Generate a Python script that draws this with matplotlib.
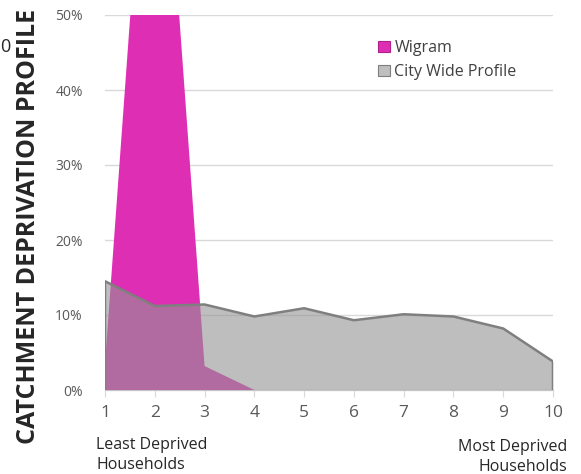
import matplotlib
matplotlib.use("Agg")
import matplotlib.pyplot as plt
from matplotlib.ticker import FuncFormatter
from matplotlib.patches import Patch

deciles = [1, 2, 3, 4, 5, 6, 7, 8, 9, 10]
wigram = [0.035, 0.95, 0.032, 0.0, 0.0, 0.0, 0.0, 0.0, 0.0, 0.0]
city_wide = [0.145, 0.112, 0.114, 0.098, 0.109, 0.093, 0.101, 0.098, 0.082, 0.038]
y_ticks = [0.0, 0.1, 0.2, 0.3, 0.4, 0.5]
series_names = ["Wigram", "City Wide Profile"]

MAGENTA = "#DE2FB4"
GRAY_FILL = "#949494"
GRAY_LINE = "#7F7F7F"
FONT = "Open Sans"

fig = plt.figure(figsize=(5.81, 4.74), dpi=100)
ax = fig.add_axes([105/581, 1-390/474, (553-105)/581, (390-15)/474])

ax.fill_between(deciles, 0, wigram, color=MAGENTA, lw=0, zorder=2)
ax.fill_between(deciles, 0, city_wide, color=GRAY_FILL, alpha=0.6, lw=0, zorder=3)
ax.plot([deciles[0]] + deciles + [deciles[-1]], [0] + city_wide + [0],
        color=GRAY_LINE, lw=1.8, zorder=4, solid_joinstyle="miter")

ax.set_xlim(1, 10)
ax.set_ylim(0, 0.5)
ax.set_yticks(y_ticks)
ax.set_xticks(deciles)
ax.yaxis.set_major_formatter(FuncFormatter(lambda v, p: f"{v*100:.0f}%"))
ax.grid(axis="y", color="#D9D9D9", lw=1.0, zorder=0)
ax.set_axisbelow(True)
for s in ["top", "right", "left"]:
    ax.spines[s].set_visible(False)
ax.spines["bottom"].set_color("#D9D9D9")
ax.spines["bottom"].set_linewidth(1.0)
ax.spines["bottom"].set_zorder(1)
ax.tick_params(axis="y", length=0, pad=16, labelsize=10, labelcolor="#595959")
ax.tick_params(axis="x", length=5, color="#D9D9D9", pad=6, labelsize=12.5, labelcolor="#595959")
for lab in ax.get_xticklabels() + ax.get_yticklabels():
    lab.set_fontfamily(FONT)

fig.text(29/581, 1-226/474, "CATCHMENT DEPRIVATION PROFILE", rotation=90,
         ha="center", va="center", fontsize=18, fontweight="bold",
         family=FONT, color="#262626")
fig.text(0.0, 1-47/474, "0", ha="left", va="center", fontsize=13, family=FONT, color="#262626")

fig.text(96/581, 1-455/474, "Least Deprived\nHouseholds", ha="left", va="center",
         fontsize=11.5, family=FONT, color="#262626", linespacing=1.4)
fig.text(567/581, 1-457/474, "Most Deprived\nHouseholds", ha="right", va="center",
         fontsize=11.5, family=FONT, color="#262626", linespacing=1.4)

handles = [Patch(facecolor=MAGENTA, edgecolor="#B0208C", lw=0.8),
           Patch(facecolor="#BFBFBF", edgecolor=GRAY_LINE, lw=0.8)]
leg = fig.legend(handles, series_names, loc="upper left", bbox_to_anchor=(372/581, 1-34/474),
                 frameon=False, handlelength=0.7, handleheight=0.7, handletextpad=0.3,
                 labelspacing=0.5, prop={"family": FONT, "size": 11.5}, borderaxespad=0)
for t in leg.get_texts():
    t.set_color("#404040")

fig.savefig("out.png", dpi=100)
